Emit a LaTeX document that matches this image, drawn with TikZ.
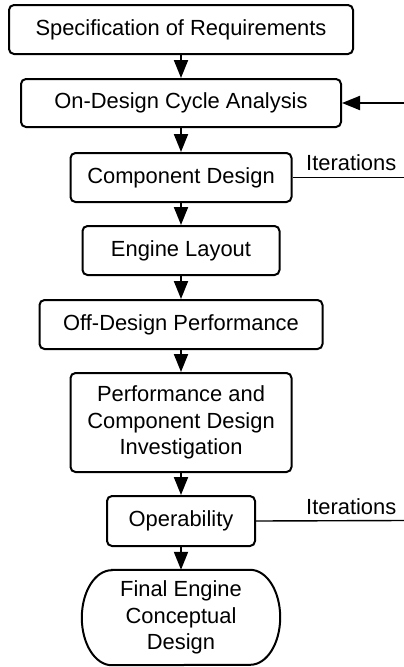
\documentclass[tikz,border=0pt]{standalone}
\usepackage{fontspec}
\setmainfont{Liberation Sans}
\usetikzlibrary{arrows.meta}

\tikzset{
  procbox/.style={draw, line width=2pt, rounded corners=5pt, inner sep=0pt,
    align=center, font=\fontsize{21.9}{26.4}\selectfont},
  flow/.style={line width=2pt, -{Triangle[length=18pt,width=14pt]}},
  iterline/.style={line width=1.4pt},
  iterlabel/.style={inner sep=0pt, anchor=base west, font=\fontsize{21.9}{26.4}\selectfont}
}

\begin{document}
\begin{tikzpicture}[x=1pt, y=-1pt]
  \useasboundingbox (0,0) rectangle (404,667);

  % process steps
  \node[procbox, minimum width=344pt, minimum height=49pt] (spec)   at (181,29.5)  {Specification of Requirements};
  \node[procbox, minimum width=320pt, minimum height=48pt] (ondes)  at (181,103)   {On-Design Cycle Analysis};
  \node[procbox, minimum width=221pt, minimum height=49pt] (comp)   at (181,177.5) {Component Design};
  \node[procbox, minimum width=197pt, minimum height=49pt] (layout) at (181,250.5) {Engine Layout};
  \node[procbox, minimum width=283pt, minimum height=49pt] (offdes) at (181,324.5) {Off-Design Performance};
  \node[procbox, minimum width=221pt, minimum height=99pt] (perf)   at (181,422.5) {Performance and\\Component Design\\Investigation};
  \node[procbox, minimum width=148pt, minimum height=50pt] (oper)   at (181,521)   {Operability};

  % terminal with elliptic ends
  \node[inner sep=0pt, minimum width=198pt, minimum height=95pt, align=center,
        font=\fontsize{21.9}{26.4}\selectfont] (final) at (181,617.5)
        {Final Engine\\Conceptual\\Design};
  \draw[line width=2pt]
    ([xshift=30pt]final.north west) -- ([xshift=-30pt]final.north east)
    arc[start angle=90, end angle=-90, x radius=30pt, y radius=47.5pt]
    -- ([xshift=30pt]final.south west)
    arc[start angle=270, end angle=90, x radius=30pt, y radius=47.5pt]
    -- cycle;

  % main flow
  \draw[flow] (spec) -- (ondes);
  \draw[flow] (ondes) -- (comp);
  \draw[flow] (comp) -- (layout);
  \draw[flow] (layout) -- (offdes);
  \draw[flow] (offdes) -- (perf);
  \draw[flow] (perf) -- (oper);
  \draw[flow] (oper) -- (final.north);

  % iteration loops
  \coordinate (retin) at (404,103);
  \coordinate (it1) at (404,177.5);
  \coordinate (it2) at (404,520.5);
  \draw[flow] (retin) -- (ondes.east);
  \draw[iterline] (comp.east) -- (it1);
  \draw[iterline] (oper.east) -- (it2);
  \node[iterlabel] (lab1) at (306,170) {Iterations};
  \node[iterlabel] (lab2) at (306,514) {Iterations};
\end{tikzpicture}
\end{document}
